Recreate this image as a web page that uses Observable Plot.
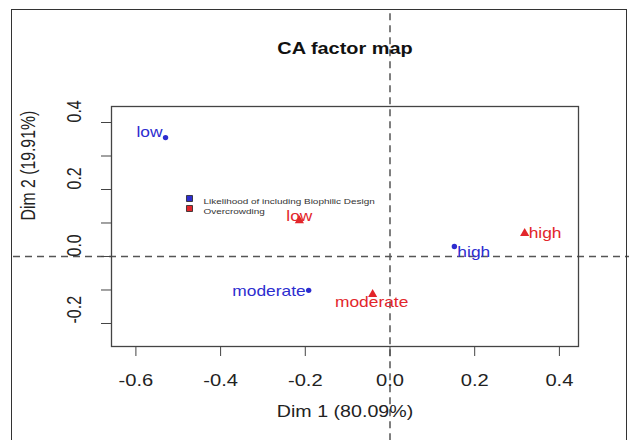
<!DOCTYPE html>
<html>
<head>
<meta charset="utf-8">
<script src="https://cdn.jsdelivr.net/npm/d3@7"></script>
<script src="https://cdn.jsdelivr.net/npm/@observablehq/plot@0.6"></script>
<style>
  html, body { margin: 0; padding: 0; background: #fff; overflow: hidden; }
  #wrap { position: relative; width: 629px; height: 440px; }
  #outer { position: absolute; left: 11px; top: 9px; width: 614px; height: 500px;
           border: 1.6px solid #333; pointer-events: none; }
  svg { display: block; }
</style>
</head>
<body>
<div id="wrap"><div id="chart"></div><div id="outer"></div></div>
<script>
// ---- data ----
const title = "CA factor map";
const xLabel = "Dim 1 (80.09%)";
const yLabel = "Dim 2 (19.91%)";
const seriesNames = ["Likelihood of including Biophilic Design", "Overcrowding"];
const categories = ["low", "high", "moderate"];
const biophilicDim1 = [-0.530, 0.152, -0.192];
const biophilicDim2 = [0.355, 0.030, -0.101];
const overcrowdDim1 = [-0.214, 0.318, -0.041];
const overcrowdDim2 = [0.107, 0.069, -0.113];
const xTicks = [-0.6, -0.4, -0.2, 0.0, 0.2, 0.4];
const yTicks = [-0.2, -0.1, 0.0, 0.1, 0.2, 0.3, 0.4];
const yTickLabels = [-0.2, 0.0, 0.2, 0.4];

// ---- build table ----
const rows = [];
categories.forEach((c, i) => {
  rows.push({series: seriesNames[0], cat: c, x: biophilicDim1[i], y: biophilicDim2[i]});
});
categories.forEach((c, i) => {
  rows.push({series: seriesNames[1], cat: c, x: overcrowdDim1[i], y: overcrowdDim2[i]});
});

const BLUE = "#2d2dcf", RED = "#e2262b";
const colorOf = s => s === seriesNames[0] ? BLUE : RED;
const FONT = "'Liberation Sans', Arial, Helvetica, sans-serif";
const STRETCH = 1.26; // the picture is stretched horizontally

// label placement (style): anchor, dx, dy per row order
const labelPlace = [
  ["end", -3, -5], ["start", 3, 6], ["end", -3, 1],
  ["middle", 0, -4], ["start", 4, 0], ["middle", -1, 8]
];

const labelMarks = rows.map((r, i) => Plot.text([r], {
  x: "x", y: "y", text: "cat", fill: colorOf(r.series),
  textAnchor: labelPlace[i][0], dx: labelPlace[i][1], dy: labelPlace[i][2],
  fontSize: 13.8
}));

const legendMarks = seriesNames.flatMap((s, i) => [
  Plot.dot([s], {frameAnchor: "top-left", dx: 78, dy: 92 + i * 10, symbol: "square",
    r: 3.4, fill: colorOf(s), stroke: "#222", strokeWidth: 0.8}),
  Plot.text([s], {frameAnchor: "top-left", dx: 92, dy: 92 + i * 10, text: d => d,
    textAnchor: "start", fontSize: 7.9, fill: "#333"})
]);

const chart = Plot.plot({
  width: 629, height: 440,
  marginLeft: 111, marginRight: 51, marginTop: 106, marginBottom: 94,
  style: {fontFamily: FONT, fontSize: "16px", color: "#222", background: "transparent", overflow: "visible"},
  x: {domain: [-0.6576, 0.4451]},
  y: {domain: [-0.2687, 0.4478]},
  marks: [
    Plot.ruleX([0], {y1: 0.725, y2: -0.56, stroke: "#555", strokeWidth: 1.5, strokeDasharray: "7,5", clip: false}),
    Plot.ruleY([0], {x1: -0.889, x2: 0.57, stroke: "#555", strokeWidth: 1.5, strokeDasharray: "7,5", clip: false}),
    Plot.frame({stroke: "#444", strokeWidth: 1.3}),
    Plot.axisX({ticks: xTicks, tickSize: 10, tickPadding: 18, tickFormat: d => d.toFixed(1),
      label: null, fontSize: 16, stroke: "#444"}),
    Plot.axisY({ticks: yTicks, tickSize: 10, tickFormat: () => "", label: null, stroke: "#444"}),
    Plot.text(yTickLabels, {frameAnchor: "left", y: d => d, text: d => d.toFixed(1),
      rotate: -90, dx: -37, fontSize: 16, fill: "#222"}),
    Plot.text([xLabel], {frameAnchor: "bottom", text: d => d, dy: 70, fontSize: 15.6, fill: "#222"}),
    Plot.text([yLabel], {frameAnchor: "left", text: d => d, dx: -83, dy: -6, rotate: -90, fontSize: 15.8, fill: "#222"}),
    Plot.text([title], {frameAnchor: "top", text: d => d, dy: -64, fontSize: 15.8, fontWeight: "bold", fill: "#111"}),
    Plot.dot(rows.filter(r => r.series === seriesNames[0]), {x: "x", y: "y", r: 2.7, fill: BLUE}),
    Plot.dot(rows.filter(r => r.series === seriesNames[1]), {x: "x", y: "y", symbol: "triangle", r: 3.4, fill: RED}),
    ...labelMarks,
    ...legendMarks
  ]
});

// reproduce the horizontal stretch of the reference picture on all texts
d3.select(chart).selectAll("text").each(function () {
  const t = this.getAttribute("transform") || "";
  const rotated = /rotate\(\s*-?90/.test(t);
  this.setAttribute("transform", t + (rotated ? ` scale(1,${STRETCH})` : ` scale(${STRETCH},1)`));
});

document.getElementById("chart").appendChild(chart);
</script>
</body>
</html>
